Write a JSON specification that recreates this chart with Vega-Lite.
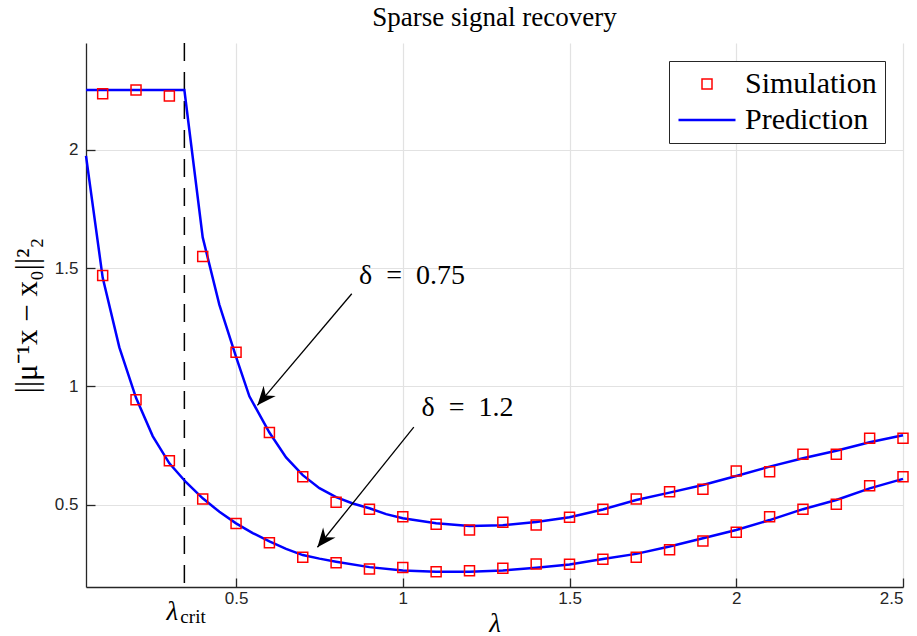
{
  "$schema": "https://vega.github.io/schema/vega-lite/v6.json",
  "width": 817,
  "height": 544,
  "autosize": {"type": "none"},
  "padding": {"left": 86, "top": 43, "right": 14, "bottom": 49},
  "background": "white",
  "title": {"text": "Sparse signal recovery", "font": "Liberation Serif", "fontSize": 27, "fontWeight": "normal", "color": "#000000", "anchor": "middle", "offset": 16, "baseline": "alphabetic", "dy": 27},
  "config": {
    "view": {"stroke": null},
    "axis": {
      "labelFont": "Liberation Sans", "labelFontSize": 17, "labelColor": "#262626",
      "domainColor": "#262626", "domainWidth": 1.3, "tickColor": "#262626", "tickWidth": 1.3, "tickSize": -9,
      "gridColor": "#e2e2e2", "gridWidth": 1.2,
      "titleFont": "Liberation Serif", "titleFontWeight": "normal", "titleColor": "#000000"
    },
    "legend": {"title": null, "orient": "top-right", "offset": 18, "padding": 8, "strokeColor": "#262626", "fillColor": "white",
      "labelFont": "Liberation Serif", "labelFontSize": 30, "labelColor": "#000000", "labelOffset": 8, "rowPadding": 6, "clipHeight": 30}
  },
  "datasets": {
    "sim": [
      {"delta": "0.75", "lambda": 0.1, "value": 2.237}, {"delta": "0.75", "lambda": 0.2, "value": 2.253}, {"delta": "0.75", "lambda": 0.3, "value": 2.228},
      {"delta": "0.75", "lambda": 0.4, "value": 1.549}, {"delta": "0.75", "lambda": 0.5, "value": 1.145}, {"delta": "0.75", "lambda": 0.6, "value": 0.805},
      {"delta": "0.75", "lambda": 0.7, "value": 0.618}, {"delta": "0.75", "lambda": 0.8, "value": 0.510}, {"delta": "0.75", "lambda": 0.9, "value": 0.481},
      {"delta": "0.75", "lambda": 1.0, "value": 0.449}, {"delta": "0.75", "lambda": 1.1, "value": 0.417}, {"delta": "0.75", "lambda": 1.2, "value": 0.393},
      {"delta": "0.75", "lambda": 1.3, "value": 0.426}, {"delta": "0.75", "lambda": 1.4, "value": 0.414}, {"delta": "0.75", "lambda": 1.5, "value": 0.447},
      {"delta": "0.75", "lambda": 1.6, "value": 0.481}, {"delta": "0.75", "lambda": 1.7, "value": 0.524}, {"delta": "0.75", "lambda": 1.8, "value": 0.555},
      {"delta": "0.75", "lambda": 1.9, "value": 0.565}, {"delta": "0.75", "lambda": 2.0, "value": 0.642}, {"delta": "0.75", "lambda": 2.1, "value": 0.639},
      {"delta": "0.75", "lambda": 2.2, "value": 0.713}, {"delta": "0.75", "lambda": 2.3, "value": 0.713}, {"delta": "0.75", "lambda": 2.4, "value": 0.781},
      {"delta": "0.75", "lambda": 2.5, "value": 0.781},
      {"delta": "1.2", "lambda": 0.1, "value": 1.469}, {"delta": "1.2", "lambda": 0.2, "value": 0.944}, {"delta": "1.2", "lambda": 0.3, "value": 0.686},
      {"delta": "1.2", "lambda": 0.4, "value": 0.524}, {"delta": "1.2", "lambda": 0.5, "value": 0.421}, {"delta": "1.2", "lambda": 0.6, "value": 0.339},
      {"delta": "1.2", "lambda": 0.7, "value": 0.278}, {"delta": "1.2", "lambda": 0.8, "value": 0.255}, {"delta": "1.2", "lambda": 0.9, "value": 0.228},
      {"delta": "1.2", "lambda": 1.0, "value": 0.234}, {"delta": "1.2", "lambda": 1.1, "value": 0.217}, {"delta": "1.2", "lambda": 1.2, "value": 0.221},
      {"delta": "1.2", "lambda": 1.3, "value": 0.231}, {"delta": "1.2", "lambda": 1.4, "value": 0.249}, {"delta": "1.2", "lambda": 1.5, "value": 0.248},
      {"delta": "1.2", "lambda": 1.6, "value": 0.269}, {"delta": "1.2", "lambda": 1.7, "value": 0.278}, {"delta": "1.2", "lambda": 1.8, "value": 0.309},
      {"delta": "1.2", "lambda": 1.9, "value": 0.347}, {"delta": "1.2", "lambda": 2.0, "value": 0.383}, {"delta": "1.2", "lambda": 2.1, "value": 0.449},
      {"delta": "1.2", "lambda": 2.2, "value": 0.481}, {"delta": "1.2", "lambda": 2.3, "value": 0.502}, {"delta": "1.2", "lambda": 2.4, "value": 0.580},
      {"delta": "1.2", "lambda": 2.5, "value": 0.618}
    ],
    "pred": [
      {"delta": "0.75", "lambda": 0.05, "value": 2.253}, {"delta": "0.75", "lambda": 0.345, "value": 2.253}, {"delta": "0.75", "lambda": 0.4, "value": 1.63},
      {"delta": "0.75", "lambda": 0.45, "value": 1.345}, {"delta": "0.75", "lambda": 0.5, "value": 1.125}, {"delta": "0.75", "lambda": 0.54, "value": 0.958},
      {"delta": "0.75", "lambda": 0.6, "value": 0.805}, {"delta": "0.75", "lambda": 0.65, "value": 0.70}, {"delta": "0.75", "lambda": 0.7, "value": 0.625},
      {"delta": "0.75", "lambda": 0.75, "value": 0.57}, {"delta": "0.75", "lambda": 0.8, "value": 0.532}, {"delta": "0.75", "lambda": 0.85, "value": 0.505},
      {"delta": "0.75", "lambda": 0.9, "value": 0.485}, {"delta": "0.75", "lambda": 0.95, "value": 0.46}, {"delta": "0.75", "lambda": 1.0, "value": 0.443},
      {"delta": "0.75", "lambda": 1.1, "value": 0.422}, {"delta": "0.75", "lambda": 1.2, "value": 0.410}, {"delta": "0.75", "lambda": 1.3, "value": 0.413},
      {"delta": "0.75", "lambda": 1.4, "value": 0.427}, {"delta": "0.75", "lambda": 1.5, "value": 0.447}, {"delta": "0.75", "lambda": 1.6, "value": 0.480},
      {"delta": "0.75", "lambda": 1.7, "value": 0.520}, {"delta": "0.75", "lambda": 1.8, "value": 0.551}, {"delta": "0.75", "lambda": 1.9, "value": 0.583},
      {"delta": "0.75", "lambda": 2.0, "value": 0.621}, {"delta": "0.75", "lambda": 2.1, "value": 0.661}, {"delta": "0.75", "lambda": 2.2, "value": 0.696},
      {"delta": "0.75", "lambda": 2.3, "value": 0.728}, {"delta": "0.75", "lambda": 2.4, "value": 0.764}, {"delta": "0.75", "lambda": 2.5, "value": 0.794},
      {"delta": "1.2", "lambda": 0.05, "value": 1.975}, {"delta": "1.2", "lambda": 0.1, "value": 1.46}, {"delta": "1.2", "lambda": 0.15, "value": 1.165},
      {"delta": "1.2", "lambda": 0.2, "value": 0.952}, {"delta": "1.2", "lambda": 0.25, "value": 0.79}, {"delta": "1.2", "lambda": 0.3, "value": 0.675},
      {"delta": "1.2", "lambda": 0.35, "value": 0.595}, {"delta": "1.2", "lambda": 0.4, "value": 0.527}, {"delta": "1.2", "lambda": 0.45, "value": 0.47},
      {"delta": "1.2", "lambda": 0.5, "value": 0.421}, {"delta": "1.2", "lambda": 0.55, "value": 0.38}, {"delta": "1.2", "lambda": 0.6, "value": 0.345},
      {"delta": "1.2", "lambda": 0.65, "value": 0.313}, {"delta": "1.2", "lambda": 0.7, "value": 0.287}, {"delta": "1.2", "lambda": 0.75, "value": 0.272},
      {"delta": "1.2", "lambda": 0.8, "value": 0.259}, {"delta": "1.2", "lambda": 0.9, "value": 0.236}, {"delta": "1.2", "lambda": 1.0, "value": 0.222},
      {"delta": "1.2", "lambda": 1.1, "value": 0.216}, {"delta": "1.2", "lambda": 1.2, "value": 0.216}, {"delta": "1.2", "lambda": 1.3, "value": 0.222},
      {"delta": "1.2", "lambda": 1.4, "value": 0.233}, {"delta": "1.2", "lambda": 1.5, "value": 0.247}, {"delta": "1.2", "lambda": 1.6, "value": 0.27},
      {"delta": "1.2", "lambda": 1.7, "value": 0.292}, {"delta": "1.2", "lambda": 1.8, "value": 0.323}, {"delta": "1.2", "lambda": 1.9, "value": 0.358},
      {"delta": "1.2", "lambda": 2.0, "value": 0.393}, {"delta": "1.2", "lambda": 2.1, "value": 0.435}, {"delta": "1.2", "lambda": 2.2, "value": 0.481},
      {"delta": "1.2", "lambda": 2.3, "value": 0.52}, {"delta": "1.2", "lambda": 2.4, "value": 0.569}, {"delta": "1.2", "lambda": 2.5, "value": 0.609}
    ],
    "crit": [{"lambda": 0.345, "value": 0.152}],
    "arrows": [
      {"id": "a1", "lambda": 0.847, "value": 1.392, "lambda2": 0.564, "value2": 0.920},
      {"id": "a2", "lambda": 1.033, "value": 0.828, "lambda2": 0.744, "value2": 0.320}
    ],
    "labels": [
      {"label": "δ\u2002=\u20020.75", "lambda": 0.869, "value": 1.433},
      {"label": "δ\u2002=\u20021.2", "lambda": 1.056, "value": 0.873}
    ]
  },
  "layer": [
    {
      "data": {"name": "crit"},
      "mark": {"type": "rule", "color": "#000000", "strokeWidth": 1.5, "strokeDash": [18, 11]},
      "encoding": {
        "x": {"field": "lambda", "type": "quantitative",
          "scale": {"domain": [0.05, 2.5], "nice": false, "zero": false},
          "axis": {"values": [0.5, 1, 1.5, 2, 2.5], "format": "~g", "title": "λ", "titleFontSize": 27, "titleFontStyle": "italic", "labelPadding": 12, "titlePadding": 4, "grid": true}}
      }
    },
    {
      "data": {"name": "pred"},
      "mark": {"type": "line", "color": "#0000ff", "strokeWidth": 2.5},
      "encoding": {
        "x": {"field": "lambda", "type": "quantitative"},
        "y": {"field": "value", "type": "quantitative",
          "scale": {"domain": [0.152, 2.452], "nice": false, "zero": false},
          "axis": {"values": [0.5, 1, 1.5, 2], "format": "~g", "title": "||μ⁻¹x − x₀||²₂", "titleFontSize": 31, "labelPadding": 17, "titlePadding": 11, "grid": true}},
        "detail": {"field": "delta", "type": "nominal"}
      }
    },
    {
      "data": {"name": "sim"},
      "mark": {"type": "point", "filled": false, "opacity": 1},
      "encoding": {
        "x": {"field": "lambda", "type": "quantitative"},
        "y": {"field": "value", "type": "quantitative"},
        "shape": {"datum": "Simulation", "type": "nominal",
          "scale": {"domain": ["Simulation", "Prediction"], "range": ["square", "stroke"]}},
        "stroke": {"datum": "Simulation", "type": "nominal",
          "scale": {"domain": ["Simulation", "Prediction"], "range": ["#ff0000", "#0000ff"]}},
        "size": {"datum": "Simulation", "type": "ordinal",
          "scale": {"domain": ["Simulation", "Prediction"], "range": [100, 3249]}},
        "strokeWidth": {"datum": "Simulation", "type": "ordinal",
          "scale": {"domain": ["Simulation", "Prediction"], "range": [1.5, 2.5]}}
      }
    },
    {
      "data": {"name": "arrows"},
      "mark": {"type": "rule", "color": "#000000", "strokeWidth": 1.3},
      "encoding": {
        "x": {"field": "lambda", "type": "quantitative"},
        "y": {"field": "value", "type": "quantitative"},
        "x2": {"field": "lambda2"},
        "y2": {"field": "value2"}
      }
    },
    {
      "data": {"name": "arrows"},
      "transform": [{"filter": "datum.id === 'a1'"}],
      "mark": {"type": "point", "shape": "M0,0L-0.42,1L0,0.68L0.42,1Z", "filled": true, "color": "#000000", "opacity": 1, "size": 1444, "angle": 220.2, "strokeWidth": 0},
      "encoding": {
        "x": {"field": "lambda2", "type": "quantitative"},
        "y": {"field": "value2", "type": "quantitative"}
      }
    },
    {
      "data": {"name": "arrows"},
      "transform": [{"filter": "datum.id === 'a2'"}],
      "mark": {"type": "point", "shape": "M0,0L-0.42,1L0,0.68L0.42,1Z", "filled": true, "color": "#000000", "opacity": 1, "size": 1444, "angle": 218.8, "strokeWidth": 0},
      "encoding": {
        "x": {"field": "lambda2", "type": "quantitative"},
        "y": {"field": "value2", "type": "quantitative"}
      }
    },
    {
      "data": {"name": "labels"},
      "mark": {"type": "text", "font": "Liberation Serif", "fontSize": 28, "align": "left", "baseline": "alphabetic", "color": "#000000"},
      "encoding": {
        "x": {"field": "lambda", "type": "quantitative"},
        "y": {"field": "value", "type": "quantitative"},
        "text": {"field": "label"}
      }
    },
    {
      "data": {"name": "crit"},
      "mark": {"type": "text", "text": "λ", "font": "Liberation Serif", "fontStyle": "italic", "fontSize": 27, "align": "center", "baseline": "alphabetic", "dx": -12, "dy": 33, "color": "#000000", "clip": false},
      "encoding": {
        "x": {"field": "lambda", "type": "quantitative"},
        "y": {"field": "value", "type": "quantitative"}
      }
    },
    {
      "data": {"name": "crit"},
      "mark": {"type": "text", "text": "crit", "font": "Liberation Serif", "fontSize": 19, "align": "left", "baseline": "alphabetic", "dx": -4, "dy": 36, "color": "#000000", "clip": false},
      "encoding": {
        "x": {"field": "lambda", "type": "quantitative"},
        "y": {"field": "value", "type": "quantitative"}
      }
    }
  ]
}
